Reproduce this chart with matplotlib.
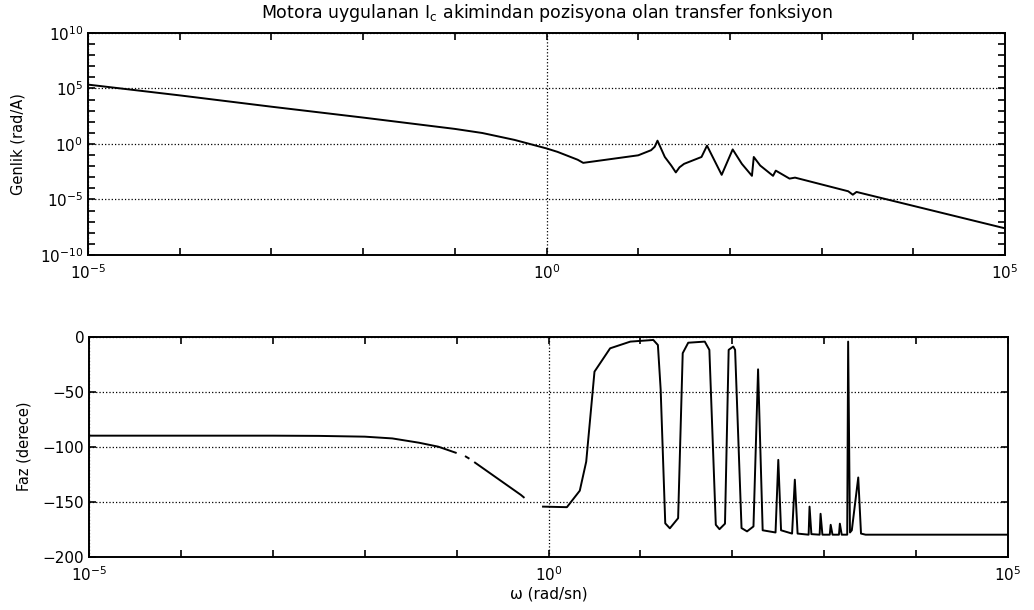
import numpy as np
import matplotlib
matplotlib.use("Agg")
import matplotlib.pyplot as plt
from matplotlib.ticker import FixedLocator, LogFormatterSciNotation, NullFormatter

plt.rcParams['font.family'] = ['DejaVu Sans']
plt.rcParams['mathtext.fontset'] = 'dejavusans'

# genlik egrisi: log10(w) ve log10(|G|)
mag_logw = [-5, -4, -3, -2, -1, -0.7, -0.35, 0, 0.12, 0.34, 0.4, 1.0, 1.14, 1.18, 1.21,
            1.29, 1.36, 1.41, 1.45, 1.5, 1.69, 1.75, 1.91, 2.03, 2.13, 2.24, 2.26, 2.33,
            2.47, 2.5, 2.65, 2.71, 3.29, 3.34, 3.38, 5]
mag_logg = [5.35, 4.38, 3.36, 2.38, 1.36, 0.99, 0.37, -0.4, -0.71, -1.42, -1.7, -1.02, -0.56,
            -0.25, 0.3, -1.17, -1.94, -2.56, -2.1, -1.79, -1.17, -0.15, -2.78, -0.49, -1.79,
            -2.87, -1.17, -1.94, -2.87, -2.4, -3.12, -3.03, -4.26, -4.57, -4.32, -7.6]

# faz egrisi: log10(w) ve derece (nan = cizgide bosluk)
faz_logw = [-5, -3, -2.5, -2, -1.7, -1.41, -1.2, -1.01, np.nan, -0.9, -0.87, np.nan,
            -0.8, -0.3, -0.27, np.nan, -0.06, 0.2, 0.34, 0.41, 0.5, 0.67, 0.89, 1.14, 1.19,
            1.22, 1.27, 1.32, 1.41, 1.46, 1.52, 1.70, 1.75, 1.82, 1.86, 1.92, 1.96, 2.01,
            2.03, 2.1, 2.16, 2.23, 2.28, 2.33, 2.47, 2.5, 2.53, 2.65, 2.68, 2.71, 2.83,
            2.84, 2.86, 2.95, 2.96, 2.98, 3.06, 3.07, 3.09, 3.16, 3.17, 3.19, 3.25, 3.26,
            3.28, 3.3, 3.37, 3.40, 3.45, 5]
faz_deg = [-90, -90, -90.2, -90.9, -92.5, -96.4, -100, -105.5, np.nan, -109, -110.5, np.nan,
           -114.5, -143.9, -146, np.nan, -154.5, -155, -140, -113.6, -31.8, -10.6, -4.5, -3,
           -7.6, -48, -169.7, -174.2, -165, -15, -5.5, -4.5, -12, -171, -175, -170, -12, -9,
           -12, -174, -177, -172.5, -29.7, -176, -178, -112, -176, -179, -130, -179, -180,
           -154.5, -179.5, -180, -161, -180, -180, -171, -180, -180, -170, -180, -180, -4.5,
           -178, -176, -128, -179, -180, -180]

w_mag = 10.0 ** np.array(mag_logw)
g_mag = 10.0 ** np.array(mag_logg)
w_faz = 10.0 ** np.array(faz_logw)

fig = plt.figure(figsize=(10.34, 6.1), dpi=100)
ax1 = fig.add_axes([0.0851, 0.582, 0.8869, 0.3639])
ax2 = fig.add_axes([0.0861, 0.0874, 0.8888, 0.3607])

def style(ax):
    for s in ax.spines.values():
        s.set_linewidth(1.4)
    ax.tick_params(which='both', direction='in', top=True, right=True,
                   length=5, width=1.2, labelsize=11)
    ax.tick_params(axis='x', which='major', pad=6)
    ax.xaxis.set_major_locator(FixedLocator([1e-5, 1e0, 1e5]))
    ax.xaxis.set_minor_locator(FixedLocator(10.0 ** np.arange(-5, 6)))
    ax.xaxis.set_minor_formatter(NullFormatter())
    ax.grid(True, which='major', linestyle=':', color='black', linewidth=0.9)

ax1.loglog(w_mag, g_mag, color='black', linewidth=1.4)
ax1.set_xlim(1e-5, 1e5)
ax1.set_ylim(1e-10, 1e10)
style(ax1)
ax1.yaxis.set_major_locator(FixedLocator([1e-10, 1e-5, 1e0, 1e5, 1e10]))
ax1.yaxis.set_minor_locator(FixedLocator(10.0 ** np.arange(-10, 11)))
ax1.yaxis.set_minor_formatter(NullFormatter())
ax1.xaxis.set_major_formatter(LogFormatterSciNotation())
ax1.yaxis.set_major_formatter(LogFormatterSciNotation())
ax1.set_ylabel('Genlik (rad/A)', fontsize=10.5, labelpad=10)
ax1.set_title(r'Motora uygulanan I$_{\rm c}$ akimindan pozisyona olan transfer fonksiyon',
              fontsize=12.5, pad=11)

ax2.semilogx(w_faz, faz_deg, color='black', linewidth=1.4)
ax2.set_xlim(1e-5, 1e5)
ax2.set_ylim(-200, 0)
style(ax2)
ax2.set_yticks([-200, -150, -100, -50, 0])
ax2.set_yticklabels(['\u2212200', '\u2212150', '\u2212100', '\u221250', '0'])
ax2.xaxis.set_major_formatter(LogFormatterSciNotation())
ax2.set_ylabel('Faz (derece)', fontsize=10.5, labelpad=8)
ax2.set_xlabel('\u03c9 (rad/sn)', fontsize=11, labelpad=2)

fig.savefig('out.png', dpi=100)
